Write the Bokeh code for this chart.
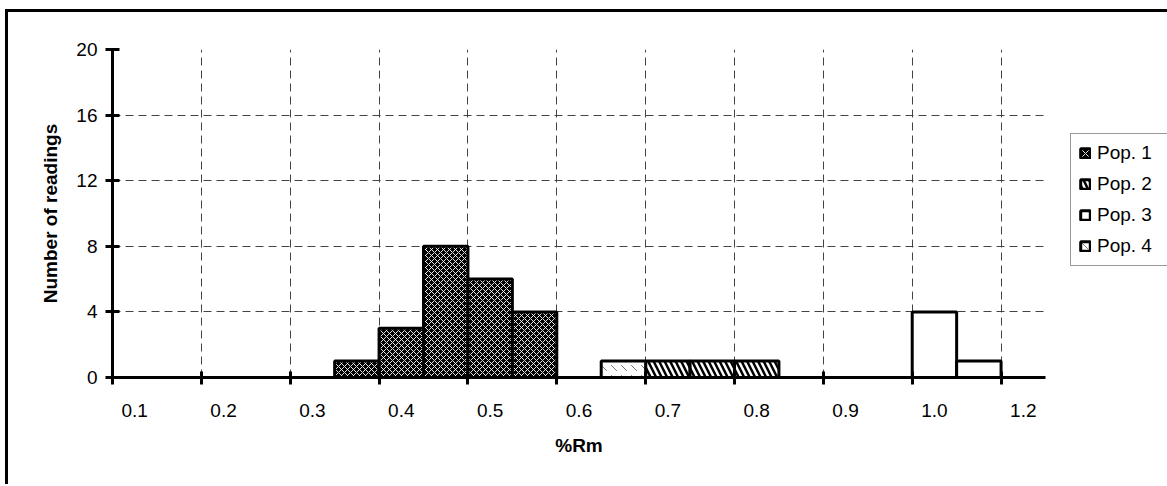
from bokeh.plotting import figure
from bokeh.models import (ColumnDataSource, FixedTicker, Range1d, Legend, LegendItem)
from bokeh.embed import file_html
from bokeh.resources import INLINE

# ---------------- data ----------------
n_categories = 21                       # %Rm classes of 0.05, starting at 0.10
class_start = 0.10
class_width = 0.05
x_tick_labels = ["0.1", "0.2", "0.3", "0.4", "0.5", "0.6", "0.7", "0.8", "0.9", "1.0", "1.2"]
x_tick_label_classes = [0, 2, 4, 6, 8, 10, 12, 14, 16, 18, 20]
y_ticks = [0, 4, 8, 12, 16, 20]

series_names = ["Pop. 1", "Pop. 2", "Pop. 3", "Pop. 4"]
pop1_rm = [0.35, 0.40, 0.45, 0.50, 0.55]
pop1_count = [1, 3, 8, 6, 4]
pop2_rm = [0.70, 0.75, 0.80]
pop2_count = [1, 1, 1]
pop3_rm = [1.00, 1.05]
pop3_count = [4, 1]
pop4_rm = [0.65]
pop4_count = [1]

# ---------------- figure ----------------
FRAME_W, FRAME_H = 933, 328
W, H = 1150, 472
ML, MT = 104, 37

p = figure(frame_width=FRAME_W, frame_height=FRAME_H, output_backend="svg",
           toolbar_location=None,
           x_range=Range1d(0, n_categories), y_range=Range1d(0, 20),
           min_border_left=ML, min_border_right=W - ML - FRAME_W,
           min_border_top=MT, min_border_bottom=H - MT - FRAME_H,
           background_fill_color="white", border_fill_color="white")
p.outline_line_color = None
p.styles = {"border-left": "3px solid black", "border-top": "3px solid black",
            "margin-top": "9px", "margin-left": "5px"}


def src(rm, cnt):
    idx = [round((r - class_start) / class_width) for r in rm]
    return ColumnDataSource(dict(left=idx, right=[i + 1 for i in idx],
                                 top=cnt, bottom=[0] * len(cnt)))


common = dict(line_color="black", line_width=3)
r1 = p.quad(source=src(pop1_rm, pop1_count), left="left", right="right", top="top",
            bottom="bottom", fill_color="black", hatch_pattern="x",
            hatch_color="white", hatch_scale=6, hatch_weight=0.9, **common)
r2 = p.quad(source=src(pop2_rm, pop2_count), left="left", right="right", top="top",
            bottom="bottom", fill_color="white", hatch_pattern="\\",
            hatch_color="black", hatch_scale=11, hatch_weight=2.5, **common)
r3 = p.quad(source=src(pop3_rm, pop3_count), left="left", right="right", top="top",
            bottom="bottom", fill_color="white", **common)
r4 = p.quad(source=src(pop4_rm, pop4_count), left="left", right="right", top="top",
            bottom="bottom", fill_color="white", hatch_pattern="`",
            hatch_color="#777777", hatch_scale=10, hatch_weight=1, **common)

# ---------------- axes ----------------
centers = [c + 0.5 for c in x_tick_label_classes]
boundaries = list(range(0, n_categories, 2))
xax = p.xaxis[0]
xax.ticker = FixedTicker(ticks=centers, minor_ticks=boundaries)
xax.major_label_overrides = {c: lab for c, lab in zip(centers, x_tick_labels)}
xax.major_tick_in = 0
xax.major_tick_out = 0
xax.minor_tick_in = 6
xax.minor_tick_out = 7
xax.minor_tick_line_width = 3
xax.minor_tick_line_color = "black"
xax.axis_line_width = 3
xax.axis_line_color = "black"
xax.major_label_standoff = 19
xax.axis_label = "%Rm"
xax.axis_label_standoff = 15

yax = p.yaxis[0]
yax.ticker = FixedTicker(ticks=y_ticks, minor_ticks=[])
yax.major_tick_in = 7
yax.major_tick_out = 7
yax.major_tick_line_width = 3
yax.major_tick_line_color = "black"
yax.axis_line_width = 3
yax.axis_line_color = "black"
yax.major_label_standoff = 8
yax.axis_label = "Number of readings"
yax.axis_label_standoff = 12

for ax in (xax, yax):
    ax.major_label_text_font = "Liberation Sans"
    ax.major_label_text_font_size = "19px"
    ax.major_label_text_color = "black"
    ax.axis_label_text_font = "Liberation Sans"
    ax.axis_label_text_font_size = "19px"
    ax.axis_label_text_font_style = "bold"
    ax.axis_label_text_color = "black"

# ---------------- grids ----------------
p.xgrid.ticker = FixedTicker(ticks=boundaries[1:])
p.ygrid.ticker = FixedTicker(ticks=y_ticks[1:])
for g in (p.xgrid, p.ygrid):
    g.grid_line_color = "#444444"
    g.grid_line_width = 1
    g.grid_line_dash = "8 5"

# ---------------- legend ----------------
legend = Legend(items=[LegendItem(label=n, renderers=[r]) for n, r in
                       zip(series_names, [r1, r2, r3, r4])],
                location=(25, 111), orientation="vertical",
                glyph_width=12, glyph_height=12, label_height=21, label_width=62,
                spacing=9, padding=8, label_standoff=6, margin=0,
                label_text_font="Liberation Sans", label_text_font_size="19px",
                label_text_color="black", border_line_color="#333333",
                border_line_width=1.5, background_fill_color="white",
                background_fill_alpha=1)
p.add_layout(legend, "right")

open("out.html", "w").write(file_html(p, INLINE))
